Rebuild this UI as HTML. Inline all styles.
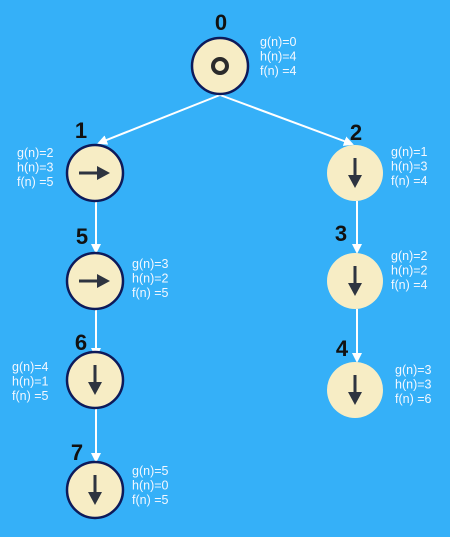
<!DOCTYPE html>
<html><head><meta charset="utf-8"><style>
body{margin:0;background:#35b0f8;}
svg{display:block}
.t{font-family:"Liberation Sans",sans-serif;font-size:12.5px;fill:#f4f8ff}
.n{font-family:"Liberation Sans Narrow","Liberation Sans",sans-serif;font-weight:bold;font-size:22px;fill:#111}
</style></head><body>
<svg id="tree" width="450" height="537">
<rect width="450" height="537" fill="#35b0f8"/>
<defs><marker id="ah" markerWidth="10" markerHeight="10" refX="8" refY="5" orient="auto" markerUnits="userSpaceOnUse"><path d="M0,0 L10,5 L0,10 z" fill="#fff"/></marker></defs>
<g stroke="#fff" stroke-width="2" fill="none">
<line x1="220" y1="95" x2="99" y2="143" marker-end="url(#ah)"/>
<line x1="220" y1="95" x2="352" y2="144" marker-end="url(#ah)"/>
<line x1="96" y1="201" x2="96" y2="252" marker-end="url(#ah)"/>
<line x1="96" y1="309" x2="96" y2="356" marker-end="url(#ah)"/>
<line x1="96" y1="408" x2="96" y2="461" marker-end="url(#ah)"/>
<line x1="357" y1="201" x2="357" y2="252" marker-end="url(#ah)"/>
<line x1="357" y1="309" x2="357" y2="361" marker-end="url(#ah)"/>
</g>
</svg>
<script>
var ids=['0','1','2','5','6','7','3','4'];
var cx=[220,95,355,95,95,95,355,355];
var cy=[66,173,173,281,380,490,281,390];
var bordered=[1,1,0,1,1,1,0,0];
var icon=['o','r','d','r','d','d','d','d'];
var g=[0,2,1,3,4,5,2,3];
var h=[4,3,3,2,1,0,2,3];
var f=[4,5,4,5,5,5,4,6];
var lx=[221,81,356,82,81,77,341,342],ly=[30,138,140,244,350,460,241,356];
var tx=[260,17,391,132,12,132,391,395],ty=[46,157,156,268,371,475,260,374];
var svg=document.getElementById('tree');var NS='http://www.w3.org/2000/svg';
function mk(tag,a,p){var e=document.createElementNS(NS,tag);for(var k in a)e.setAttribute(k,a[k]);(p||svg).appendChild(e);return e;}
for(var i=0;i<ids.length;i++){
 var grp=mk('g',{});
 
 
 mk('circle',{cx:cx[i],cy:cy[i],r:28,fill:'#f7edc5',stroke:bordered[i]?'#0d1a5a':'none','stroke-width':2.5},grp);
 var x=cx[i],y=cy[i];
 if(icon[i]=='o')mk('circle',{cx:x,cy:y,r:7,fill:'none',stroke:'#2b2b2b','stroke-width':4},grp);
 else if(icon[i]=='r'){mk('line',{x1:x-16,y1:y,x2:x+4,y2:y,stroke:'#2e3440','stroke-width':3},grp);mk('path',{d:'M'+(x+2)+','+(y-7)+' L'+(x+15)+','+y+' L'+(x+2)+','+(y+7)+'z',fill:'#2e3440'},grp);}
 else {mk('line',{x1:x,y1:y-15,x2:x,y2:y+4,stroke:'#2e3440','stroke-width':3},grp);mk('path',{d:'M'+(x-7)+','+(y+2)+' L'+x+','+(y+15)+' L'+(x+7)+','+(y+2)+'z',fill:'#2e3440'},grp);}
 var lab=mk('text',{x:lx[i],y:ly[i],'class':'n','text-anchor':'middle'},grp);lab.textContent=ids[i];
 
 
 var lines=['g(n)='+g[i],'h(n)='+h[i],'f(n) ='+f[i]];
 for(var j=0;j<3;j++){var t=mk('text',{x:tx[i],y:ty[i]+j*14.5,'class':'t'},grp);t.textContent=lines[j];
 
 }
}
</script>
</body></html>
